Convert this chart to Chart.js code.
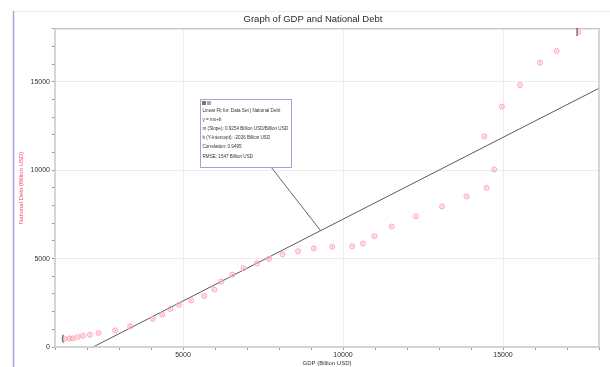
<!DOCTYPE html>
<html>
<head>
<meta charset="utf-8">
<script src="https://cdn.jsdelivr.net/npm/chart.js@4/dist/chart.umd.min.js"></script>
<style>
  html, body { margin: 0; padding: 0; background: #fff; }
  #wrap { width: 610px; height: 367px; position: relative; }
</style>
</head>
<body>
<div id="wrap"><canvas id="c" width="610" height="367"></canvas></div>
<script>
// US GDP vs. national debt, billions of USD
const gdp = [1290, 1455, 1560, 1705, 1875, 2090, 2360, 2880, 3350, 4060,
             4350, 4600, 4875, 5250, 5665, 5980, 6190, 6540, 6890, 7310,
             7690, 8110, 8595, 9090, 9665, 10290, 10625, 10980, 11520, 12280,
             13095, 13860, 14485, 14725, 14420, 14965, 15530, 16155, 16675, 17365];
const debt = [470, 487, 487, 566, 640, 697, 793, 940, 1166, 1602,
              1829, 2152, 2378, 2639, 2888, 3245, 3698, 4094, 4451, 4734,
              4983, 5243, 5413, 5578, 5674, 5696, 5849, 6263, 6812, 7395,
              7945, 8511, 9004, 10040, 11908, 13590, 14813, 16082, 16738, 17814];

// Linear fit results
const fitSlope = 0.9254;
const fitIntercept = -2026;
const fitLines = [
  'Linear Fit for: Data Set | National Debt',
  'y = mx+b',
  'm (Slope): 0.9254 Billion USD/Billion USD',
  'b (Y-Intercept): -2026 Billion USD',
  'Correlation: 0.9495',
  'RMSE: 1547 Billion USD'
];

// Axis ranges and labels
const xRange = [1000, 18000];
const yRange = [0, 18000];
const majorStep = 5000;
const minorStep = 1000;
const chartTitle = 'Graph of GDP and National Debt';
const xTitle = 'GDP (Billion USD)';
const yTitle = 'National Debt (Billion USD)';

const points = gdp.map((x, i) => ({ x, y: debt[i] }));
const fitStartX = -fitIntercept / fitSlope;
const fitPoints = [
  { x: fitStartX, y: 0 },
  { x: xRange[1], y: fitSlope * xRange[1] + fitIntercept }
];

const FONT = "'Liberation Sans', Arial, sans-serif";

const decor = {
  id: 'decor',
  beforeDraw(chart) {
    const ctx = chart.ctx;
    ctx.save();
    ctx.fillStyle = '#fff';
    ctx.fillRect(0, 0, chart.width, chart.height);
    // page rules
    ctx.strokeStyle = '#ececec';
    ctx.lineWidth = 1;
    ctx.beginPath();
    ctx.moveTo(14, 11.5);
    ctx.lineTo(chart.width, 11.5);
    ctx.stroke();
    ctx.strokeStyle = '#aaa3dc';
    ctx.lineWidth = 1.5;
    ctx.beginPath();
    ctx.moveTo(13.5, 11);
    ctx.lineTo(13.5, chart.height);
    ctx.stroke();
    ctx.restore();
  },
  afterDraw(chart) {
    const ctx = chart.ctx;
    const a = chart.chartArea;
    const xs = chart.scales.x, ys = chart.scales.y;
    ctx.save();
    // plot frame
    ctx.strokeStyle = '#c9c9c9';
    ctx.lineWidth = 1.5;
    ctx.strokeRect(a.left, a.top, a.right - a.left, a.bottom - a.top);

    // range markers on first and last points
    ctx.strokeStyle = '#555';
    ctx.lineWidth = 1;
    const first = points[0], last = points[points.length - 1];
    const fx = xs.getPixelForValue(first.x) - 1.5, fy = ys.getPixelForValue(first.y);
    ctx.beginPath();
    ctx.moveTo(fx + 1, fy - 3.5); ctx.lineTo(fx, fy - 3.5); ctx.lineTo(fx, fy + 3.5); ctx.lineTo(fx + 1, fy + 3.5);
    ctx.stroke();
    const lx = xs.getPixelForValue(last.x) - 1.5, ly = ys.getPixelForValue(last.y);
    ctx.beginPath();
    ctx.moveTo(lx - 1, ly - 3.5); ctx.lineTo(lx, ly - 3.5); ctx.lineTo(lx, ly + 3.5); ctx.lineTo(lx - 1, ly + 3.5);
    ctx.stroke();

    // fit annotation box with leader line
    const bx = 200, by = 99, bw = 91, bh = 68;
    const anchorX = 9300;
    const tx = xs.getPixelForValue(anchorX);
    const ty = ys.getPixelForValue(fitSlope * anchorX + fitIntercept);
    ctx.strokeStyle = '#666';
    ctx.lineWidth = 1;
    ctx.beginPath();
    ctx.moveTo(271, by + bh);
    ctx.lineTo(tx, ty);
    ctx.stroke();
    ctx.fillStyle = '#fff';
    ctx.fillRect(bx, by, bw, bh);
    ctx.strokeStyle = '#a4a4cf';
    ctx.strokeRect(bx + 0.5, by + 0.5, bw, bh);
    // header icons
    ctx.fillStyle = '#777';
    ctx.fillRect(bx + 2, by + 2, 4, 4);
    ctx.fillStyle = '#aaa';
    ctx.fillRect(bx + 7, by + 2, 4, 4);
    ctx.fillStyle = '#333';
    ctx.font = '4.6px ' + FONT;
    ctx.textBaseline = 'middle';
    ctx.textAlign = 'left';
    const rowY = [111, 119.5, 128.5, 137.5, 146.5, 157];
    fitLines.forEach((t, i) => ctx.fillText(t, bx + 2.5, rowY[i]));
    ctx.restore();
  }
};

const tickFilter = v => (v % majorStep === 0 ? String(v) : '');
const gridColor = c => (c.tick && c.tick.value % majorStep === 0 ? '#ececec' : 'rgba(0,0,0,0)');

new Chart(document.getElementById('c'), {
  type: 'scatter',
  data: {
    datasets: [
      {
        label: 'National Debt',
        data: points,
        pointStyle: 'circle',
        pointRadius: 2.5,
        pointBorderWidth: 1,
        pointBorderColor: '#ffa3b6',
        pointBackgroundColor: 'rgba(255,170,190,0.18)',
        showLine: false,
        order: 2
      },
      {
        label: 'National Debt centers',
        data: points,
        pointRadius: 0.8,
        pointBorderWidth: 0,
        pointBackgroundColor: '#ff95aa',
        showLine: false,
        order: 1
      },
      {
        label: 'Linear Fit',
        type: 'line',
        data: fitPoints,
        borderColor: '#5a5a5a',
        borderWidth: 1,
        pointRadius: 0,
        fill: false,
        order: 3
      }
    ]
  },
  options: {
    responsive: false,
    animation: false,
    devicePixelRatio: 1,
    layout: { padding: { left: 27, right: 11, top: 0, bottom: 0 } },
    plugins: {
      legend: { display: false },
      tooltip: { enabled: false },
      title: {
        display: true,
        text: chartTitle,
        color: '#2a2a2a',
        font: { family: FONT, size: 9.5, weight: 'normal', lineHeight: 1.2 },
        padding: { top: 13.3, bottom: 4 }
      }
    },
    scales: {
      x: {
        type: 'linear',
        min: xRange[0],
        max: xRange[1],
        afterFit(s) { s.height = 20; },
        border: { display: false },
        grid: { color: gridColor, tickColor: '#9a9a9a', tickLength: 3, lineWidth: 1 },
        ticks: {
          stepSize: minorStep,
          autoSkip: false,
          maxRotation: 0,
          padding: 1,
          color: '#333',
          font: { family: FONT, size: 7 },
          callback: tickFilter
        },
        title: {
          display: true,
          text: xTitle,
          color: '#333',
          font: { family: FONT, size: 6, lineHeight: 1.2 },
          padding: { top: 0, bottom: 0 }
        }
      },
      y: {
        type: 'linear',
        min: yRange[0],
        max: yRange[1],
        afterFit(s) { s.width = 28; },
        border: { display: false },
        grid: { color: gridColor, tickColor: '#9a9a9a', tickLength: 3, lineWidth: 1 },
        ticks: {
          stepSize: minorStep,
          autoSkip: false,
          padding: 2,
          color: '#333',
          font: { family: FONT, size: 7 },
          callback: tickFilter
        },
        title: {
          display: true,
          text: yTitle,
          color: '#ff3d62',
          font: { family: FONT, size: 6, lineHeight: 1.2 },
          padding: { top: -9, bottom: 0 }
        }
      }
    }
  },
  plugins: [decor]
});
</script>
</body>
</html>
